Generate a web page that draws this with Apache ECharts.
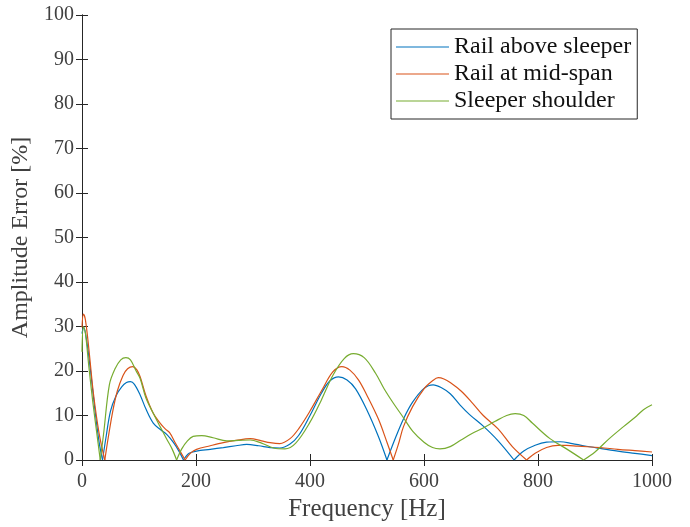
<!DOCTYPE html>
<html>
<head>
<meta charset="utf-8">
<script src="https://cdn.jsdelivr.net/npm/echarts@6/dist/echarts.min.js"></script>
<style>html,body{margin:0;padding:0;background:#fff}#c{width:690px;height:527px}</style>
</head>
<body>
<div id="c"></div>
<script>
const seriesNames = ['Rail above sleeper', 'Rail at mid-span', 'Sleeper shoulder'];

const blueF = [0,3,8,15,22,30,36,42,50,60,70,78,85,92,102,112,125,138,149,160,170,178,188,201,225,248,270,289,310,330,347,365,380,400,420,435,450,465,480,500,520,535,550,565,580,600,616,630,646,663,680,704,730,758,775,795,815,839,860,880,909,940,970,1000];
const blueV = [28.4,29.8,27,20,12,4,0,5,11,14.5,16.5,17.4,17.6,17,14.6,11.5,8.3,6.8,5.7,4,2,0,1.5,2,2.4,2.8,3.2,3.5,3.2,2.8,2.7,3.6,5.5,10,15,17.8,18.7,18,16,11.2,5.3,0,5,9.5,13,16.1,16.9,16.3,14.9,12.4,10.2,7.6,4.3,0,2,3.3,4,4.1,3.7,3.2,2.6,2,1.5,1.0];

const orangeF = [0,2.5,6,12,20,30,40,46,54,62,72,80,89,96,102,112,125,137,146,154,163,172,181,190,201,225,248,270,295,315,330,347,365,380,400,420,440,456,470,485,500,520,535,546,555,564,580,600,615,625,635,646,665,685,704,730,755,780,795,815,835,850,870,909,940,970,1000];
const orangeV = [29.8,32.8,31.5,25,15,6,0,5,11,15.5,19,20.5,21,20.3,18.7,14.5,10.5,8.3,7,6.1,4,2,0,1.5,2.4,3.2,3.9,4.4,4.8,4.3,3.9,3.7,4.8,7,11,15.5,19.8,21,20.2,18,14.5,9.2,4,0,3.5,7.5,12,16,17.8,18.5,18.2,17.4,15.5,12.8,10,7,3,0,1.5,2.8,3.3,3.3,3.1,2.8,2.4,2.1,1.8];

const greenF = [0,2.5,6,12,19,26,32,38,48,58,68,77,85,95,102,112,125,137,149,158,166,175,185,195,210,230,254,275,295,315,336,356,375,400,420,440,460,476,495,515,530,546,564,580,600,615,628,646,665,685,704,725,745,760,775,790,821,850,880,900,925,950,973,985,1000];
const greenV = [24.3,30,28.5,21,13,6,0,6,16.9,20.5,22.5,23,22.5,20,18.3,14,10.5,7.5,4.6,2.5,0,2.5,4.3,5.3,5.5,5,4.3,4.4,4.5,3.8,2.7,2.5,3.8,8.5,13.5,19,22.8,23.9,23,19.5,16,12.8,9.5,6.5,4,2.8,2.5,3,4.5,6,7.2,8.7,10,10.4,10,8.3,4.8,2.5,0,1.8,4.8,7.5,9.9,11.3,12.4];

const xTicks = {min: 0, max: 1000, interval: 200};
const yTicks = {min: 0, max: 100, interval: 10};

const colors = ['#0072BD', '#D95319', '#77AC30'];
const zip = (f, v) => f.map((x, i) => [x, v[i]]);
const allData = [zip(blueF, blueV), zip(orangeF, orangeV), zip(greenF, greenV)];

// split each curve at its zero points so the V-shaped minima stay sharp
function splitAtZeros(pts) {
  const segs = [];
  let cur = [];
  pts.forEach((p, i) => {
    cur.push(p);
    if (p[1] === 0 && i > 0 && i < pts.length - 1) {
      segs.push(cur);
      cur = [p];
    }
  });
  segs.push(cur);
  return segs;
}

const FONT = '"Liberation Serif", "DejaVu Serif", serif';
const axisCol = '#262626';
const textCol = '#404040';

const series = [];
seriesNames.forEach((n, i) => {
  splitAtZeros(allData[i]).forEach(seg => {
    series.push({
      name: n, type: 'line', data: seg,
      symbol: 'none', smooth: 0.35,
      lineStyle: {width: 1.2, color: colors[i]},
      itemStyle: {color: colors[i]},
      xAxisIndex: 0, yAxisIndex: 0
    });
  });
});

const chart = echarts.init(document.getElementById('c'), null, {renderer: 'canvas'});
const baseAxisLine = {show: true, lineStyle: {color: axisCol, width: 1}};
chart.setOption({
  animation: false,
  color: colors,
  grid: {left: 82, right: 38, top: 15, bottom: 63, containLabel: false},
  legend: {
    orient: 'vertical',
    left: 391, top: 29,
    itemWidth: 53, itemHeight: 14, itemGap: 3,
    padding: [6, 6, 6, 5],
    borderColor: axisCol, borderWidth: 1,
    backgroundColor: '#fff',
    textStyle: {fontFamily: FONT, fontSize: 24, color: '#111'},
    data: seriesNames.map((n, i) => ({name: n, icon: 'path://M0,0 L53,0 L53,1 L0,1 Z', itemStyle: {color: colors[i]}}))
  },
  xAxis: [{
    type: 'value', min: xTicks.min, max: xTicks.max, interval: xTicks.interval,
    name: 'Frequency [Hz]', nameLocation: 'middle', nameGap: 37,
    nameTextStyle: {fontFamily: FONT, fontSize: 25, color: textCol},
    axisLine: baseAxisLine,
    axisTick: {show: true, inside: true, length: 6, lineStyle: {color: axisCol}},
    axisLabel: {fontFamily: FONT, fontSize: 20, color: textCol, margin: 12, formatter: v => String(v)},
    splitLine: {show: false}
  }, {
    type: 'value', position: 'top', min: xTicks.min, max: xTicks.max, interval: xTicks.interval,
    axisLine: baseAxisLine,
    axisTick: {show: true, inside: true, length: 6, lineStyle: {color: axisCol}},
    axisLabel: {show: false}, splitLine: {show: false}
  }],
  yAxis: [{
    type: 'value', min: yTicks.min, max: yTicks.max, interval: yTicks.interval,
    name: 'Amplitude Error [%]', nameLocation: 'middle', nameGap: 46,
    nameTextStyle: {fontFamily: FONT, fontSize: 24, color: textCol},
    axisLine: baseAxisLine,
    axisTick: {show: true, inside: true, length: 6, lineStyle: {color: axisCol}},
    axisLabel: {fontFamily: FONT, fontSize: 20, color: textCol, margin: 8},
    splitLine: {show: false}
  }, {
    type: 'value', position: 'right', min: yTicks.min, max: yTicks.max, interval: yTicks.interval,
    axisLine: baseAxisLine,
    axisTick: {show: true, inside: true, length: 6, lineStyle: {color: axisCol}},
    axisLabel: {show: false}, splitLine: {show: false}
  }],
  series: series
});
</script>
</body>
</html>
